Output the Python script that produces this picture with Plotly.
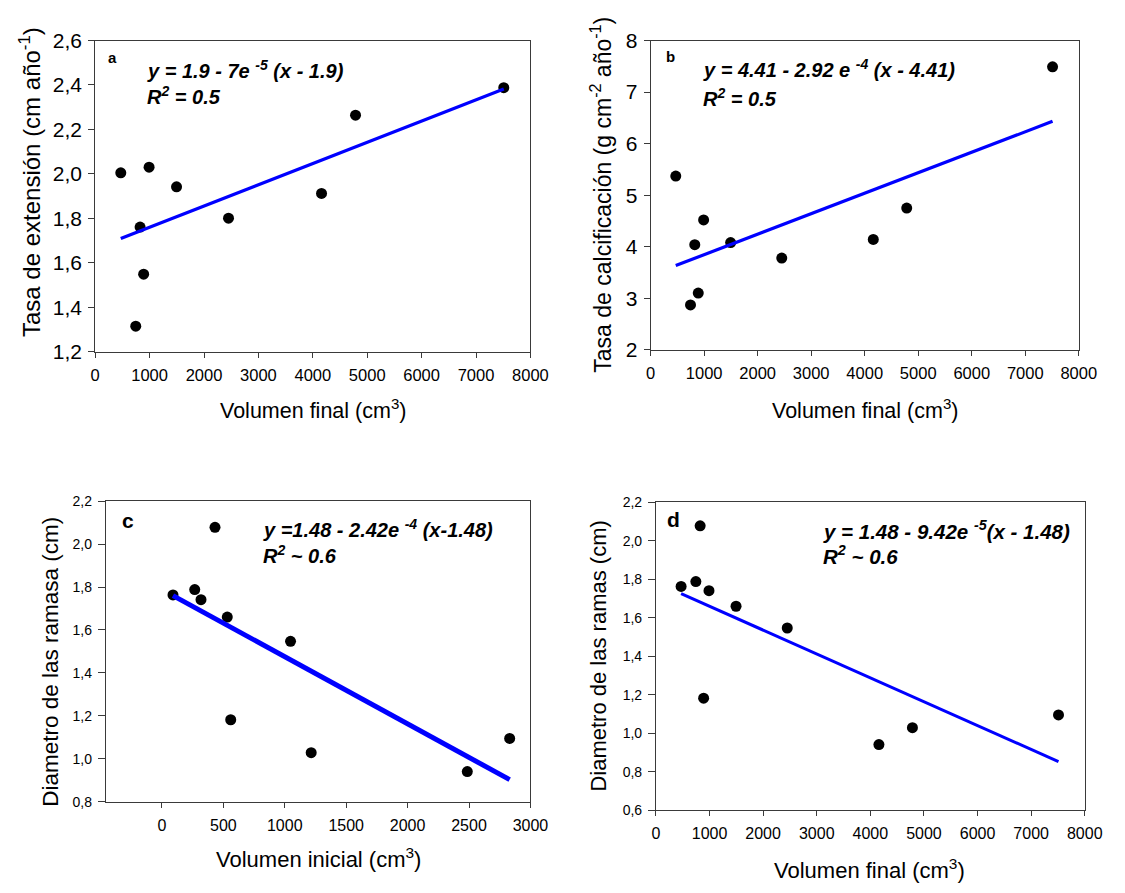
import numpy as np
import plotly.graph_objects as go

# Colony measurements (one entry per colony, same order in every list)
vol_final = [470, 745, 825, 890, 990, 1495, 2450, 4160, 4785, 7510]
vol_inicial = [90, 267, 432, 560, 318, 532, 1047, 2486, 1215, 2831]
tasa_extension = [2.005, 1.315, 1.761, 1.549, 2.030, 1.942, 1.801, 1.912, 2.264, 2.388]
tasa_calcificacion = [5.37, 2.87, 4.04, 3.10, 4.52, 4.08, 3.78, 4.14, 4.75, 7.49]
diametro = [1.763, 1.788, 2.078, 1.182, 1.741, 1.660, 1.547, 0.941, 1.029, 1.095]

W, H = 1125, 893
FONT = "Liberation Sans, Arial, sans-serif"
BLUE = "#0000FF"
FRAME = "#3a3a3a"


def px(x):
    return x / W


def py(y):
    return 1 - y / H


panels = [
    # (x data, y data, line width, axis suffix)
    (vol_final, tasa_extension, 3.2, ""),
    (vol_final, tasa_calcificacion, 3.2, "2"),
    (vol_inicial, diametro, 5, "3"),
    (vol_final, diametro, 3, "4"),
]

fig = go.Figure()
for xs, ys, lw, s in panels:
    xa, ya = "x" + s, "y" + s
    fig.add_trace(go.Scatter(
        x=xs, y=ys, mode="markers", xaxis=xa, yaxis=ya,
        marker=dict(color="black", size=11), showlegend=False))
    # least-squares fit drawn across the range of the data
    slope, icpt = np.polyfit(xs, ys, 1)
    xl = np.array([min(xs), max(xs)])
    fig.add_trace(go.Scatter(
        x=xl, y=icpt + slope * xl, mode="lines", xaxis=xa, yaxis=ya,
        line=dict(color=BLUE, width=lw), showlegend=False))


def axis(domain, rng, dtick, fsize, tick0=0, fmt=None, standoff=0, ticklen=5):
    d = dict(domain=domain, range=rng, dtick=dtick, tick0=tick0,
             showgrid=False, zeroline=False, showline=True, mirror=True,
             linecolor=FRAME, linewidth=1, ticks="outside", ticklen=ticklen,
             tickcolor=FRAME, tickfont=dict(family=FONT, size=fsize, color="black"),
             ticklabelstandoff=standoff)
    if fmt:
        d["tickformat"] = fmt
    return d


layout = dict(
    width=W, height=H, margin=dict(l=0, r=0, t=0, b=0),
    paper_bgcolor="white", plot_bgcolor="white", separators=",.",
    xaxis=axis([px(92.1), px(536.4)], [0, 8000], 1000, 16.5, standoff=3),
    yaxis=axis([py(348.7), py(29.3)], [1.2, 2.6], 0.2, 21, fmt=".1f", ticklen=6, standoff=2),
    xaxis2=axis([px(659.1), px(1096.2)], [0, 8000], 1000, 16.5, standoff=3),
    yaxis2=axis([py(346.7), py(29.3)], [2, 8], 1, 21, ticklen=6, standoff=2),
    xaxis3=axis([px(102.9), px(536.4)], [-457, 3000], 500, 16, standoff=4),
    yaxis3=axis([py(810.7), py(502)], [0.8, 2.2], 0.2, 14, fmt=".1f", ticklen=7, standoff=3),
    xaxis4=axis([px(664.5), px(1102.3)], [0, 8000], 1000, 16, standoff=4),
    yaxis4=axis([py(819.3), py(503.3)], [0.6, 2.2], 0.2, 14, fmt=".1f", ticklen=7, standoff=3),
)
for s in ["", "2", "3", "4"]:
    layout["yaxis" + s]["anchor"] = "x" + s
    layout["xaxis" + s]["anchor"] = "y" + s
fig.update_layout(**layout)


def note(text, x, y, size, xanchor="left", angle=0):
    fig.add_annotation(text=text, x=px(x), y=py(y), xref="paper", yref="paper",
                       xanchor=xanchor, yanchor="middle", showarrow=False,
                       textangle=angle,
                       font=dict(family=FONT, size=size, color="black"))


# Panel letters
note("<b>a</b>", 110, 47, 15, "center")
note("<b>b</b>", 679, 46, 15, "center")
note("<b>c</b>", 126, 522, 21, "center")
note("<b>d</b>", 682, 521, 21, "center")

# Regression equations
note("<b><i>y = 1.9 - 7e <sup>-5</sup> (x - 1.9)</i></b>", 143, 59, 20)
note("<b><i>R<sup>2</sup> = 0.5</i></b>", 143, 86, 20)
note("<b><i>y = 4.41 - 2.92 e <sup>-4</sup> (x - 4.41)</i></b>", 711, 58, 20)
note("<b><i>R<sup>2</sup> = 0.5</i></b>", 711, 88, 20)
note("<b><i>y =1.48 - 2.42e <sup>-4</sup> (x-1.48)</i></b>", 261, 530, 20)
note("<b><i>R<sup>2</sup> ~ 0.6</i></b>", 261, 557, 20)
note("<b><i>y = 1.48 - 9.42e <sup>-5</sup>(x - 1.48)</i></b>", 833, 532, 20.5)
note("<b><i>R<sup>2</sup> ~ 0.6</i></b>", 833, 557, 20.5)

# Axis titles
note("Volumen final (cm<sup>3</sup>)", 314, 408, 21.5, "center")
note("Volumen final (cm<sup>3</sup>)", 878, 408, 21.5, "center")
note("Volumen inicial (cm<sup>3</sup>)", 320, 868, 22, "center")
note("Volumen final (cm<sup>3</sup>)", 883, 880, 22, "center")
note("Tasa de extensión (cm año<sup>-1</sup>)", 25, 174, 24, "center", -90)
note("Tasa de calcificación (g cm<sup>-2</sup> año<sup>-1</sup>)", 609, 188, 23, "center", -90)
note("Diametro de las ramasa (cm)", 47, 667, 22.5, "center", -90)
note("Diametro de las ramas (cm)", 606, 661, 22, "center", -90)

# the figure fills the whole page, so the page itself gets no margin
fig.write_html("out.html",
               post_script="document.body.style.margin='0';"
                           "document.body.style.overflow='hidden';")
